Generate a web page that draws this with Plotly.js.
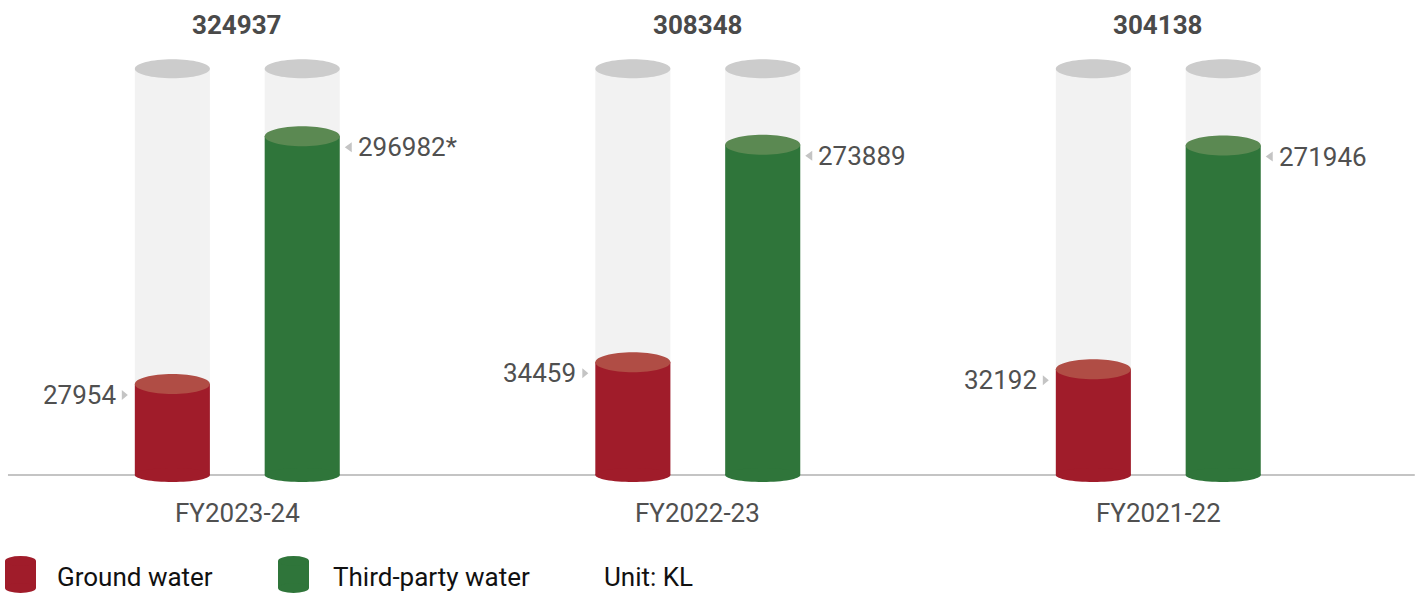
<!DOCTYPE html>
<html>
<head>
<meta charset="utf-8">
<script src="https://cdn.plot.ly/plotly-3.0.1.min.js"></script>
<style>
  html, body { margin: 0; padding: 0; background: #fff; }
  #chart { width: 1425px; height: 594px; }
</style>
</head>
<body>
<div id="chart"></div>
<script>
// data
const categories = ['FY2023-24', 'FY2022-23', 'FY2021-22'];
const groundWater = [27954, 34459, 32192];
const thirdPartyWater = [296982, 273889, 271946];
const thirdPartyNote = ['*', '', ''];
const totals = [324937, 308348, 304138];
const legendNames = ['Ground water', 'Third-party water'];
const unitText = 'Unit: KL';

// look
const W = 1425, PLOT_H = 500;
const yFloor = 11750;      // where the cylinders stand (log axis)
const trackTop = 566000;   // height of the grey "glass"
const barWidth = 0.163;
const barOffset = 0.141;
const colGround = '#a01c2a', colGroundTop = '#b04d45';
const colThird = '#2f753a', colThirdTop = '#5b8952';
const colTrack = '#f2f2f2', colTrackTop = '#cccccc';
const textCol = '#505050';
const FONT = 'Roboto, "Noto Sans", sans-serif';

const idx = categories.map((c, i) => i);
const groundX = idx.map(i => i - barOffset);
const thirdX = idx.map(i => i + barOffset);

function px(x) { return x / W; }
function py(y) { return 1 - y / PLOT_H; }

let traces = [
    {
        type: 'bar',
        x: groundX.concat(thirdX),
        y: groundX.concat(thirdX).map(() => trackTop - yFloor),
        base: yFloor,
        width: barWidth,
        marker: { color: colTrack, line: { width: 0 } },
        hoverinfo: 'skip',
        showlegend: false
    },
    {
        type: 'bar',
        name: legendNames[0],
        x: groundX,
        y: groundWater.map(v => v - yFloor),
        base: yFloor,
        width: barWidth,
        marker: { color: colGround, line: { width: 0 } },
        customdata: groundWater,
        hovertemplate: '%{customdata}<extra>' + legendNames[0] + '</extra>',
        showlegend: false
    },
    {
        type: 'bar',
        name: legendNames[1],
        x: thirdX,
        y: thirdPartyWater.map(v => v - yFloor),
        base: yFloor,
        width: barWidth,
        marker: { color: colThird, line: { width: 0 } },
        customdata: thirdPartyWater,
        hovertemplate: '%{customdata}<extra>' + legendNames[1] + '</extra>',
        showlegend: false
    }
];

// ellipse as a bezier path: x in axis units, y in pixels around the anchor
// (negative pixel y0/y1 don't survive on a log axis, paths do)
function ellipse(xc, yVal, ry, color) {
    const rx = barWidth / 2, k = 0.5523;
    const p = (x, y) => (xc + x).toFixed(5) + ',' + y.toFixed(2);
    const d = 'M ' + p(-rx, 0) +
        ' C ' + p(-rx, k * ry) + ' ' + p(-k * rx, ry) + ' ' + p(0, ry) +
        ' C ' + p(k * rx, ry) + ' ' + p(rx, k * ry) + ' ' + p(rx, 0) +
        ' C ' + p(rx, -k * ry) + ' ' + p(k * rx, -ry) + ' ' + p(0, -ry) +
        ' C ' + p(-k * rx, -ry) + ' ' + p(-rx, -k * ry) + ' ' + p(-rx, 0) + ' Z';
    return {
        type: 'path', layer: 'above', xref: 'x', yref: 'y',
        ysizemode: 'pixel', yanchor: yVal,
        path: d, fillcolor: color, line: { width: 0 }
    };
}

let shapes = [];
// baseline
shapes.push({
    type: 'line', layer: 'below', xref: 'x', yref: 'y',
    x0: -0.498, x1: 2.557, y0: yFloor, y1: yFloor,
    line: { color: '#c4c4c4', width: 2 }
});

idx.forEach(i => {
    shapes.push(ellipse(groundX[i], trackTop, 9.5, colTrackTop));
    shapes.push(ellipse(thirdX[i], trackTop, 9.5, colTrackTop));
    shapes.push(ellipse(groundX[i], yFloor, 7, colGround));
    shapes.push(ellipse(thirdX[i], yFloor, 7, colThird));
    shapes.push(ellipse(groundX[i], groundWater[i], 10, colGroundTop));
    shapes.push(ellipse(thirdX[i], thirdPartyWater[i], 10, colThirdTop));

    // little pointers next to the values
    shapes.push({
        type: 'path', layer: 'above', xref: 'x', yref: 'y',
        xsizemode: 'pixel', xanchor: groundX[i] - barWidth / 2,
        ysizemode: 'pixel', yanchor: groundWater[i],
        path: 'M -13,-6 L -7,-11 L -13,-16 Z',
        fillcolor: '#c4c4c4', line: { width: 0 }
    });
    shapes.push({
        type: 'path', layer: 'above', xref: 'x', yref: 'y',
        xsizemode: 'pixel', xanchor: thirdX[i] + barWidth / 2,
        ysizemode: 'pixel', yanchor: thirdPartyWater[i],
        path: 'M 12,-6 L 5,-11 L 12,-16 Z',
        fillcolor: '#c4c4c4', line: { width: 0 }
    });
});

// legend icons
function legendIcon(x0, color) {
    let x1 = x0 + 31;
    return [
        { type: 'rect', xref: 'paper', yref: 'paper', x0: px(x0), x1: px(x1), y0: py(588), y1: py(561), fillcolor: color, line: { width: 0 } },
        { type: 'circle', xref: 'paper', yref: 'paper', x0: px(x0), x1: px(x1), y0: py(566), y1: py(556), fillcolor: color, line: { width: 0 } },
        { type: 'circle', xref: 'paper', yref: 'paper', x0: px(x0), x1: px(x1), y0: py(593), y1: py(583), fillcolor: color, line: { width: 0 } }
    ];
}
shapes = shapes.concat(legendIcon(5, colGround), legendIcon(278, colThird));

let annotations = [];
idx.forEach(i => {
    annotations.push({
        xref: 'x', yref: 'paper', x: i, y: py(25),
        text: '<b>' + totals[i] + '</b>', showarrow: false,
        xanchor: 'center', yanchor: 'middle',
        font: { family: FONT, size: 26, color: '#4a4a4a' }
    });
    annotations.push({
        xref: 'x', yref: 'paper', x: i, y: py(513),
        text: categories[i], showarrow: false,
        xanchor: 'center', yanchor: 'middle',
        font: { family: FONT, size: 26, color: textCol }
    });
    annotations.push({
        xref: 'x', yref: 'y', x: groundX[i] - barWidth / 2, y: Math.log10(groundWater[i]),
        text: String(groundWater[i]), showarrow: false,
        xanchor: 'right', yanchor: 'middle', xshift: -17, yshift: -11,
        font: { family: FONT, size: 26, color: textCol }
    });
    annotations.push({
        xref: 'x', yref: 'y', x: thirdX[i] + barWidth / 2, y: Math.log10(thirdPartyWater[i]),
        text: thirdPartyWater[i] + thirdPartyNote[i], showarrow: false,
        xanchor: 'left', yanchor: 'middle', xshift: 16, yshift: -11,
        font: { family: FONT, size: 26, color: textCol }
    });
});

const legendTextX = [55, 331, 602];
legendNames.concat([unitText]).forEach((t, k) => {
    annotations.push({
        xref: 'paper', yref: 'paper', x: px(legendTextX[k]), y: py(577),
        text: t, showarrow: false, xanchor: 'left', yanchor: 'middle',
        font: { family: FONT, size: 26, color: '#111111' }
    });
});

let layout = {
    width: W,
    height: 594,
    margin: { l: 0, r: 0, t: 0, b: 94, pad: 0 },
    paper_bgcolor: '#ffffff',
    plot_bgcolor: '#ffffff',
    barmode: 'overlay',
    showlegend: false,
    xaxis: {
        range: [-0.5153, 2.5792],
        showticklabels: false,
        ticks: '',
        showgrid: false,
        zeroline: false,
        showline: false,
        fixedrange: true
    },
    yaxis: {
        type: 'log',
        range: [3.9665, 6.037],
        showgrid: false,
        zeroline: false,
        showline: false,
        showticklabels: false,
        ticks: '',
        fixedrange: true
    },
    shapes: shapes,
    annotations: annotations,
    font: { family: FONT }
};

Plotly.newPlot('chart', traces, layout, { displayModeBar: false, staticPlot: true });
</script>
</body>
</html>
